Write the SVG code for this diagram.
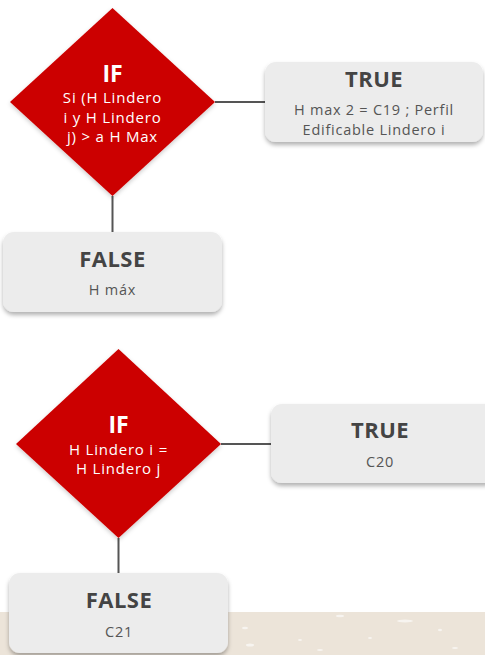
<svg xmlns="http://www.w3.org/2000/svg" width="485" height="655" viewBox="0 0 485 655">
<style>
.box{fill:#ececec;filter:url(#sh)}
.dia{fill:#cc0000;filter:url(#sh2)}
.ttl{font-family:"Open Sans","DejaVu Sans",sans-serif;font-weight:bold;font-size:22px;letter-spacing:0.5px;fill:#444;text-anchor:middle}
.txt{font-family:"Open Sans","DejaVu Sans",sans-serif;font-size:14.5px;letter-spacing:0.75px;fill:#555;text-anchor:middle}
.wt{font-family:"Open Sans","DejaVu Sans",sans-serif;font-size:15px;letter-spacing:0.8px;fill:#fff;text-anchor:middle}
.wttl{font-family:"Open Sans","DejaVu Sans",sans-serif;font-weight:bold;font-size:23px;fill:#fff;text-anchor:middle}
.ln{stroke:#555;stroke-width:2;fill:none}
.sp{fill:#fff;opacity:0.6}
</style>
<defs>
<filter id="sh" x="-10%" y="-20%" width="120%" height="150%">
<feDropShadow dx="0" dy="3" stdDeviation="2" flood-color="#000" flood-opacity="0.3"/>
</filter>
<filter id="sh2" x="-10%" y="-10%" width="120%" height="125%">
<feDropShadow dx="0" dy="2" stdDeviation="2" flood-color="#000" flood-opacity="0.2"/>
</filter>
</defs>
<rect width="485" height="655" fill="#fff"/>
<g id="band">
<rect x="0" y="612" width="485" height="43" fill="#ece4d9"/>
<ellipse class="sp" cx="245" cy="628" rx="3" ry="1.2"/>
<ellipse class="sp" cx="340" cy="616" rx="4" ry="1.2"/>
<ellipse class="sp" cx="405" cy="621" rx="8" ry="1.5"/>
<ellipse class="sp" cx="250" cy="645" rx="4" ry="1.5"/>
<ellipse class="sp" cx="300" cy="640" rx="2" ry="1"/>
<ellipse class="sp" cx="370" cy="638" rx="2" ry="1"/>
<ellipse class="sp" cx="440" cy="630" rx="2" ry="1.2"/>
<ellipse class="sp" cx="455" cy="648" rx="3" ry="1"/>
<ellipse class="sp" cx="320" cy="650" rx="3" ry="1"/>
<ellipse class="sp" cx="20" cy="640" rx="2" ry="1"/>
</g>
<g id="connectors">
<line class="ln" x1="215" y1="102" x2="266" y2="102"/>
<line class="ln" x1="112.5" y1="196" x2="112.5" y2="233"/>
<line class="ln" x1="221" y1="444" x2="272" y2="444"/>
<line class="ln" x1="118.5" y1="538" x2="118.5" y2="574"/>
</g>
<g id="if1">
<polygon class="dia" points="112.5,8 215,102 112.5,196 10,102"/>
<text class="wttl" x="112.5" y="82">IF</text>
<text class="wt" x="112.5" y="103">Si (H Lindero</text>
<text class="wt" x="112.5" y="123">i y H Lindero</text>
<text class="wt" x="112.5" y="142">j) &gt; a H Max</text>
</g>
<g id="true1">
<rect class="box" x="265" y="62" width="218" height="80" rx="11"/>
<text class="ttl" x="374" y="87">TRUE</text>
<text class="txt" x="374" y="115">H max 2 = C19 ; Perfil</text>
<text class="txt" x="374" y="135">Edificable Lindero i</text>
</g>
<g id="false1">
<rect class="box" x="3" y="232" width="219" height="80" rx="11"/>
<text class="ttl" x="112.5" y="267">FALSE</text>
<text class="txt" x="112.5" y="295">H máx</text>
</g>
<g id="if2">
<polygon class="dia" points="118.5,349 221,444 118.5,538 16,444"/>
<text class="wttl" x="118.5" y="433">IF</text>
<text class="wt" x="118.5" y="455">H Lindero i =</text>
<text class="wt" x="118.5" y="474">H Lindero j</text>
</g>
<g id="true2">
<rect class="box" x="271" y="404" width="225" height="79" rx="11"/>
<text class="ttl" x="380" y="438">TRUE</text>
<text class="txt" x="380" y="467">C20</text>
</g>
<g id="false2">
<rect class="box" x="9" y="573" width="219" height="80" rx="11"/>
<text class="ttl" x="119" y="608">FALSE</text>
<text class="txt" x="119" y="637">C21</text>
</g>
</svg>
